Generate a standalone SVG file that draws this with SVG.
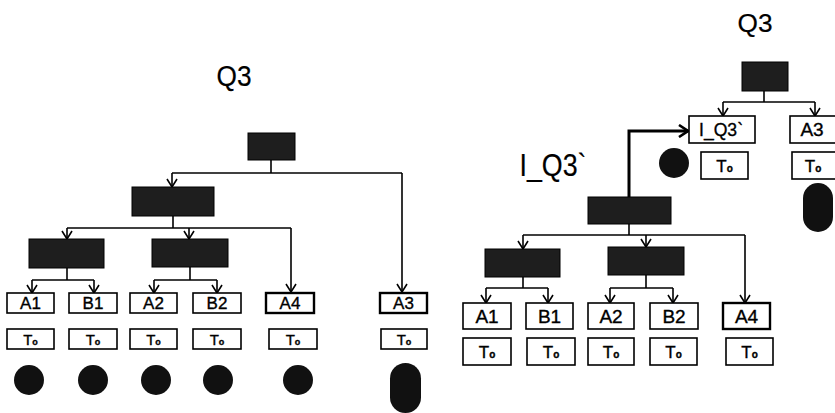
<svg xmlns="http://www.w3.org/2000/svg" width="835" height="413" viewBox="0 0 835 413">
<defs>
<style>
.dark{fill:#1e1e1e;stroke:#000;stroke-width:1}
.box{fill:#fff;stroke:#000;stroke-width:1.6}
.bold{fill:#fff;stroke:#000;stroke-width:2.4}
.dot{fill:#111}
.ln{fill:none;stroke:#000;stroke-width:1.6}
.thick{fill:none;stroke:#000;stroke-width:3}
text{font-family:"Liberation Sans",Arial,sans-serif;fill:#000;text-anchor:middle;stroke:#000;stroke-width:0.35}
.t1{font-size:17px}
.t2{font-size:19px}
.big{font-size:29px;stroke-width:0.2}
.sub{font-size:9px;font-weight:bold}
</style>
<marker id="v" viewBox="-9 -6 10 12" refX="0" refY="0" markerWidth="10" markerHeight="12" orient="auto" markerUnits="userSpaceOnUse">
<path d="M-8,-5 L0,0 L-8,5" fill="none" stroke="#000" stroke-width="1.6"/>
</marker>
<marker id="vt" viewBox="-11 -7 12 14" refX="0" refY="0" markerWidth="12" markerHeight="14" orient="auto" markerUnits="userSpaceOnUse">
<path d="M-9,-6 L0,0 L-9,6" fill="none" stroke="#000" stroke-width="2.6"/>
</marker>
</defs>
<rect width="835" height="413" fill="#fff"/>

<!-- labels -->
<text class="big" x="234" y="86" textLength="35" lengthAdjust="spacingAndGlyphs">Q3</text>
<text class="big" x="755" y="32" style="font-size:25px" textLength="35" lengthAdjust="spacingAndGlyphs">Q3</text>
<text class="big" x="553" y="176" style="font-size:31px" textLength="67" lengthAdjust="spacingAndGlyphs">I_Q3`</text>

<!-- connectors -->
<g id="connectors">
<!-- left tree -->
<path class="ln" d="M271,160 V173"/>
<path class="ln" d="M172,173 H402"/>
<path class="ln" d="M172,173 V187" marker-end="url(#v)"/>
<path class="ln" d="M402,173 V292" marker-end="url(#v)"/>
<path class="ln" d="M173,216 V228"/>
<path class="ln" d="M67,228 H291"/>
<path class="ln" d="M67,228 V239" marker-end="url(#v)"/>
<path class="ln" d="M189,228 V239" marker-end="url(#v)"/>
<path class="ln" d="M291,228 V292" marker-end="url(#v)"/>
<path class="ln" d="M67,268 V280"/>
<path class="ln" d="M32,280 H94"/>
<path class="ln" d="M32,280 V293" marker-end="url(#v)"/>
<path class="ln" d="M94,280 V293" marker-end="url(#v)"/>
<path class="ln" d="M190,267 V280"/>
<path class="ln" d="M154,280 H217"/>
<path class="ln" d="M154,280 V293" marker-end="url(#v)"/>
<path class="ln" d="M217,280 V293" marker-end="url(#v)"/>
<!-- right tree -->
<path class="ln" d="M764,90 V102"/>
<path class="ln" d="M723,102 H815"/>
<path class="ln" d="M723,102 V116" marker-end="url(#v)"/>
<path class="ln" d="M815,102 V116" marker-end="url(#v)"/>
<path class="thick" d="M629,197 V131 H688" marker-end="url(#vt)"/>
<path class="ln" d="M629,224 V235"/>
<path class="ln" d="M523,235 H745"/>
<path class="ln" d="M523,235 V249" marker-end="url(#v)"/>
<path class="ln" d="M646,235 V247" marker-end="url(#v)"/>
<path class="ln" d="M745,235 V303" marker-end="url(#v)"/>
<path class="ln" d="M523,277 V288"/>
<path class="ln" d="M486,288 H548"/>
<path class="ln" d="M486,288 V303" marker-end="url(#v)"/>
<path class="ln" d="M548,288 V303" marker-end="url(#v)"/>
<path class="ln" d="M646,275 V288"/>
<path class="ln" d="M610,288 H673"/>
<path class="ln" d="M610,288 V303" marker-end="url(#v)"/>
<path class="ln" d="M673,288 V303" marker-end="url(#v)"/>
</g>

<!-- left tree nodes -->
<g id="L-root"><rect class="dark" x="248" y="133" width="47" height="27"/></g>
<g id="L-n2"><rect class="dark" x="132" y="187" width="82" height="29"/></g>
<g id="L-n3a"><rect class="dark" x="29" y="239" width="75" height="29"/></g>
<g id="L-n3b"><rect class="dark" x="152" y="239" width="76" height="28"/></g>

<g id="L-A1"><rect class="box" x="7" y="293" width="47" height="20"/><text class="t1" x="30.5" y="309">A1</text></g>
<g id="L-B1"><rect class="box" x="69" y="293" width="48" height="20"/><text class="t1" x="93" y="309">B1</text></g>
<g id="L-A2"><rect class="box" x="130" y="293" width="47" height="20"/><text class="t1" x="153.5" y="309">A2</text></g>
<g id="L-B2"><rect class="box" x="193" y="293" width="48" height="20"/><text class="t1" x="217" y="309">B2</text></g>
<g id="L-A4"><rect class="bold" x="266" y="293" width="48" height="20"/><text class="t1" x="290" y="309">A4</text></g>
<g id="L-A3"><rect class="bold" x="380" y="293" width="47" height="20"/><text class="t1" x="403.5" y="309">A3</text></g>

<g id="L-T1"><rect class="box" x="7" y="329" width="47" height="20"/><text class="t1" x="30.5" y="345" style="font-size:15px">T<tspan class="sub">o</tspan></text></g>
<g id="L-T2"><rect class="box" x="69" y="329" width="48" height="20"/><text class="t1" x="93" y="345" style="font-size:15px">T<tspan class="sub">o</tspan></text></g>
<g id="L-T3"><rect class="box" x="130" y="329" width="47" height="20"/><text class="t1" x="153.5" y="345" style="font-size:15px">T<tspan class="sub">o</tspan></text></g>
<g id="L-T4"><rect class="box" x="193" y="329" width="48" height="20"/><text class="t1" x="217" y="345" style="font-size:15px">T<tspan class="sub">o</tspan></text></g>
<g id="L-T5"><rect class="box" x="269" y="329" width="48" height="20"/><text class="t1" x="293" y="345" style="font-size:15px">T<tspan class="sub">o</tspan></text></g>
<g id="L-T6"><rect class="box" x="381" y="329" width="46" height="20"/><text class="t1" x="404" y="345" style="font-size:15px">T<tspan class="sub">o</tspan></text></g>

<g id="L-c1"><circle class="dot" cx="29" cy="380" r="15"/></g>
<g id="L-c2"><circle class="dot" cx="93" cy="380" r="15"/></g>
<g id="L-c3"><circle class="dot" cx="156" cy="380" r="15"/></g>
<g id="L-c4"><circle class="dot" cx="218" cy="380" r="15"/></g>
<g id="L-c5"><circle class="dot" cx="298" cy="380" r="15"/></g>
<g id="L-c6"><rect class="dot" x="390" y="363" width="31" height="50" rx="15.5"/></g>

<!-- right tree nodes -->
<g id="R-root"><rect class="dark" x="742" y="62" width="46" height="29"/></g>
<g id="R-IQ3"><rect class="box" x="689" y="116" width="66" height="27"/><text class="t2" x="721" y="136" style="font-size:18px" textLength="44" lengthAdjust="spacingAndGlyphs">I_Q3`</text></g>
<g id="R-A3"><rect class="box" x="790" y="116" width="47" height="27"/><text class="t2" x="812" y="136">A3</text></g>
<g id="R-c0"><circle class="dot" cx="674" cy="163" r="15"/></g>
<g id="R-T0"><rect class="box" x="701" y="152" width="47" height="27"/><text class="t2" x="724.5" y="172" style="font-size:17px">T<tspan class="sub" style="font-size:10px">o</tspan></text></g>
<g id="R-T0b"><rect class="box" x="792" y="152" width="46" height="27"/><text class="t2" x="813" y="172" style="font-size:17px">T<tspan class="sub" style="font-size:10px">o</tspan></text></g>
<g id="R-c6"><rect class="dot" x="803" y="183" width="30" height="49" rx="15"/></g>

<g id="R-n1"><rect class="dark" x="588" y="197" width="83" height="27"/></g>
<g id="R-n2a"><rect class="dark" x="485" y="249" width="75" height="28"/></g>
<g id="R-n2b"><rect class="dark" x="608" y="247" width="76" height="28"/></g>

<g id="R-A1"><rect class="box" x="463" y="303" width="48" height="26"/><text class="t2" x="487" y="323">A1</text></g>
<g id="R-B1"><rect class="box" x="526" y="303" width="47" height="26"/><text class="t2" x="549.5" y="323">B1</text></g>
<g id="R-A2"><rect class="box" x="588" y="303" width="46" height="26"/><text class="t2" x="611" y="323">A2</text></g>
<g id="R-B2"><rect class="box" x="650" y="303" width="48" height="26"/><text class="t2" x="674" y="323">B2</text></g>
<g id="R-A4"><rect class="bold" x="723" y="303" width="47" height="26"/><text class="t2" x="746.5" y="323">A4</text></g>

<g id="R-T1"><rect class="box" x="463" y="338" width="48" height="27"/><text class="t2" x="487" y="358" style="font-size:17px">T<tspan class="sub" style="font-size:10px">o</tspan></text></g>
<g id="R-T2"><rect class="box" x="527" y="338" width="48" height="27"/><text class="t2" x="551" y="358" style="font-size:17px">T<tspan class="sub" style="font-size:10px">o</tspan></text></g>
<g id="R-T3"><rect class="box" x="588" y="338" width="46" height="27"/><text class="t2" x="611" y="358" style="font-size:17px">T<tspan class="sub" style="font-size:10px">o</tspan></text></g>
<g id="R-T4"><rect class="box" x="650" y="338" width="47" height="27"/><text class="t2" x="673.5" y="358" style="font-size:17px">T<tspan class="sub" style="font-size:10px">o</tspan></text></g>
<g id="R-T5"><rect class="box" x="726" y="338" width="47" height="27"/><text class="t2" x="749.5" y="358" style="font-size:17px">T<tspan class="sub" style="font-size:10px">o</tspan></text></g>
</svg>
